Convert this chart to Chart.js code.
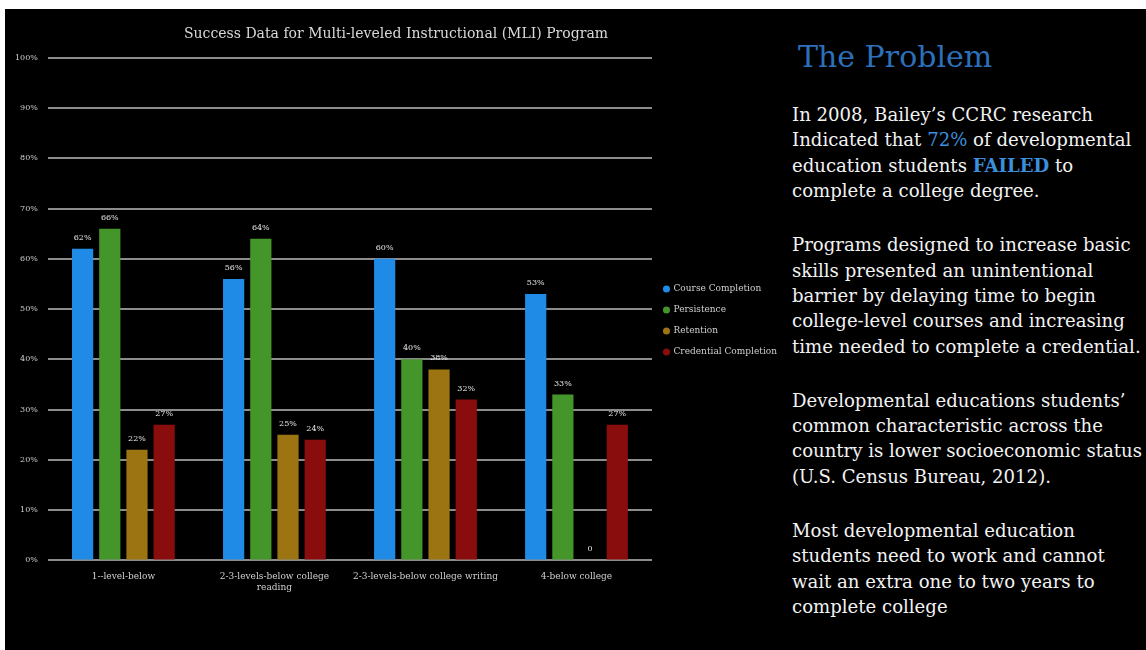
<!DOCTYPE html>
<html>
<head>
<meta charset="utf-8">
<script src="https://cdn.jsdelivr.net/npm/chart.js@4/dist/chart.umd.min.js"></script>
<style>
  html, body { margin: 0; padding: 0; background: #ffffff; width: 1146px; height: 650px; overflow: hidden; }
  #slide { position: absolute; left: 5px; top: 9px; width: 1141px; height: 641px; background: #000000; }
  #chartBox { position: absolute; left: 0; top: 0; width: 785px; height: 641px; }
  #heading { position: absolute; left: 793px; top: 30px; font-family: "DejaVu Serif", serif; font-size: 30px; color: #2c70bb; white-space: nowrap; }
  #notes { position: absolute; left: 787px; top: 93px; font-family: "DejaVu Serif", serif; font-size: 18.1px; line-height: 25.4px; color: #f2f2f2; white-space: nowrap; }
  #notes p { margin: 0 0 28.5px 0; }
  .hi { color: #3b8fdc; }
  .hib { color: #3b8fdc; font-weight: bold; }
</style>
</head>
<body>
<div id="slide">
  <div id="chartBox"><canvas id="chart" width="785" height="641"></canvas></div>
  <div id="heading">The Problem</div>
  <div id="notes">
    <p>In 2008, Bailey’s CCRC research<br>Indicated that <span class="hi">72%</span> of developmental<br>education students <span class="hib">FAILED</span> to<br>complete a college degree.</p>
    <p>Programs designed to increase basic<br>skills presented an unintentional<br>barrier by delaying time to begin<br>college-level courses and increasing<br>time needed to complete a credential.</p>
    <p>Developmental educations students’<br>common characteristic across the<br>country is lower socioeconomic status<br>(U.S. Census Bureau, 2012).</p>
    <p>Most developmental education<br>students need to work and cannot<br>wait an extra one to two years to<br>complete college</p>
  </div>
</div>
<script>
// Program levels shown along the x axis
const categories = [
  ["1--level-below"],
  ["2-3-levels-below college", "reading"],
  ["2-3-levels-below college writing"],
  ["4-below college"]
];

// Success measures, percent of students
const courseCompletion = [62, 56, 60, 53];
const persistence = [66, 64, 40, 33];
const retention = [22, 25, 38, 0];
const credentialCompletion = [27, 24, 32, 27];

const seriesNames = ["Course Completion", "Persistence", "Retention", "Credential Completion"];
const seriesColors = ["#1f8be6", "#45962a", "#9d7412", "#8a0d0d"];

// Tick marks for the percent axis
const yTicks = [0, 10, 20, 30, 40, 50, 60, 70, 80, 90, 100];

const smallFont = { family: "DejaVu Serif", size: 8 };
const labelFont = { family: "DejaVu Serif", size: 9 };

// Writes each bar's value just above it
const valueLabels = {
  id: "valueLabels",
  afterDatasetsDraw(chart) {
    const ctx = chart.ctx;
    ctx.save();
    ctx.font = "8px 'DejaVu Serif'";
    ctx.fillStyle = "#e6e6e6";
    ctx.textAlign = "center";
    ctx.textBaseline = "bottom";
    chart.data.datasets.forEach((ds, i) => {
      const meta = chart.getDatasetMeta(i);
      meta.data.forEach((bar, j) => {
        const v = ds.data[j];
        const txt = v === 0 ? "0" : v + "%";
        ctx.fillText(txt, bar.x, bar.y - 7);
      });
    });
    ctx.restore();
  }
};

// Moves the side legend a little lower than its centred spot
const legendNudge = {
  id: "legendNudge",
  afterLayout(chart) {
    const lg = chart.legend;
    if (lg) { lg.top += 18; lg.bottom += 18; }
  }
};

const series = [courseCompletion, persistence, retention, credentialCompletion];

new Chart(document.getElementById("chart"), {
  type: "bar",
  data: {
    labels: categories,
    datasets: series.map((vals, i) => ({
      label: seriesNames[i],
      data: vals,
      backgroundColor: seriesColors[i],
      borderWidth: 0,
      categoryPercentage: 0.72,
      barPercentage: 0.78
    }))
  },
  options: {
    responsive: false,
    animation: false,
    devicePixelRatio: 1,
    layout: { padding: { left: 0, right: 3, top: 0, bottom: 54 } },
    plugins: {
      title: {
        display: true,
        text: "Success Data for Multi-leveled Instructional (MLI) Program",
        color: "#d9d9d9",
        font: { family: "DejaVu Serif", size: 14, weight: "normal" },
        padding: { top: 17, bottom: 15 }
      },
      legend: {
        position: "right",
        labels: {
          color: "#cfcfcf",
          font: labelFont,
          usePointStyle: true,
          pointStyle: "circle",
          boxWidth: 5,
          boxHeight: 5,
          padding: 12
        }
      },
      tooltip: { enabled: false }
    },
    scales: {
      x: {
        grid: { display: false },
        border: { display: false },
        ticks: { color: "#cfcfcf", font: labelFont, maxRotation: 0, autoSkip: false, padding: 3 }
      },
      y: {
        min: 0,
        max: 100,
        afterBuildTicks(scale) { scale.ticks = yTicks.map(v => ({ value: v })); },
        grid: { color: "#8c8c8c", lineWidth: 2, drawTicks: false },
        border: { display: false },
        ticks: { color: "#cfcfcf", font: smallFont, padding: 10, callback: v => v + "%" }
      }
    }
  },
  plugins: [valueLabels, legendNudge]
});
</script>
</body>
</html>
